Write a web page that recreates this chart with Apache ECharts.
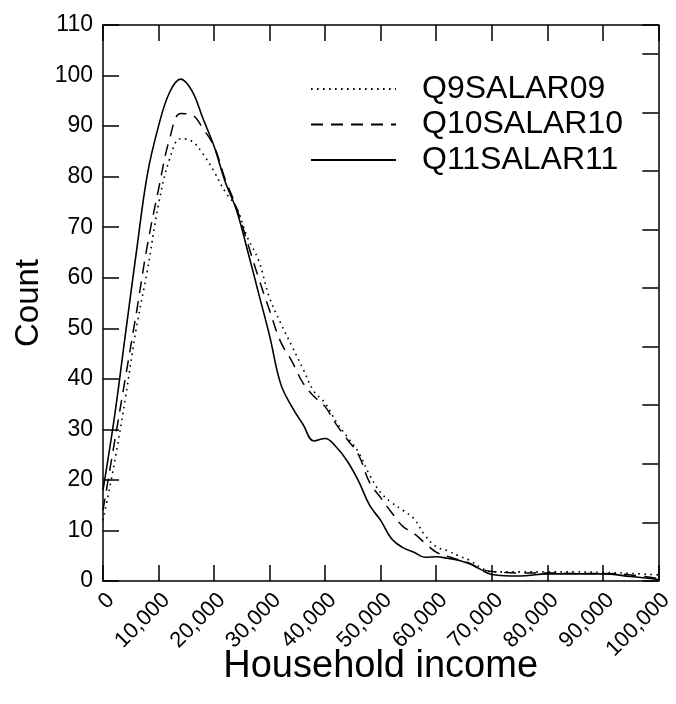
<!DOCTYPE html>
<html>
<head>
<meta charset="utf-8">
<script src="https://cdn.jsdelivr.net/npm/echarts@6/dist/echarts.min.js"></script>
<style>
html,body{margin:0;padding:0;background:#fff;}
#chart{width:676px;height:704px;}
</style>
</head>
<body>
<div id="chart"></div>
<script>
const incomeX = [0, 2000, 4000, 6000, 8000, 10000, 12000, 14000, 16000, 18000, 20000, 22000, 24000, 26000, 28000, 30000, 32000, 34000, 36000, 38000, 40000, 42000, 44000, 46000, 48000, 50000, 52000, 54000, 56000, 58000, 60000, 62000, 64000, 66000, 68000, 70000, 75000, 80000, 85000, 90000, 95000, 100000];
const q9 = [12, 23, 36, 50, 61.5, 74.5, 83.5, 87.5, 87, 84.5, 81, 77, 74, 68, 63.5, 56, 51, 46.5, 42, 37.5, 35.2, 31.5, 28.5, 25.5, 21, 17.5, 15.5, 14, 12.3, 9, 6.8, 6, 5, 4.1, 2.7, 1.8, 1.8, 1.8, 1.8, 1.7, 1.5, 1.2];
const q10 = [14, 27, 40, 53, 66.5, 77.5, 87.5, 92.5, 92.2, 89.5, 86, 79.5, 74, 67, 60, 53.5, 47.3, 43.5, 39.2, 36.5, 34.5, 31, 28, 25, 19.5, 16.5, 13.5, 10.8, 9.4, 7.5, 5.7, 4.9, 4.2, 3.5, 2.4, 1.9, 1.6, 1.6, 1.5, 1.5, 1.2, 0.5];
const q11 = [18, 32, 48.5, 65, 80.5, 90, 96.7, 99.3, 97, 91.5, 86, 79, 73.5, 65.5, 57, 48.5, 39, 34.5, 31, 27.7, 28.2, 26.5, 23.7, 19.8, 15, 12, 8.3, 6.6, 5.7, 4.7, 4.8, 4.5, 4.1, 3.4, 2.3, 1.3, 1.0, 1.4, 1.4, 1.4, 0.9, 0.3];
const seriesNames = ['Q9SALAR09', 'Q10SALAR10', 'Q11SALAR11'];
const xTitle = 'Household income';
const yTitle = 'Count';

const FONT = "'Liberation Sans', Arial, sans-serif";
function pairs(ys){ return incomeX.map((x,i)=>[x, ys[i]]); }
function fmt(v){ return String(v).replace(/\B(?=(\d{3})+(?!\d))/g, ','); }

const chart = echarts.init(document.getElementById('chart'), null, {renderer:'canvas'});
const axisLine = {show:true, onZero:false, lineStyle:{color:'#000', width:1.5}};
const tick = (len)=>({show:true, inside:true, length:len, lineStyle:{color:'#000', width:1.5}});
chart.setOption({
  animation:false,
  backgroundColor:'#fff',
  grid:{left:103, right:17, top:25, bottom:123, containLabel:false},
  legend:{
    left:305, top:68, orient:'vertical',
    itemWidth:85, itemHeight:10, itemGap:3.5,
    itemStyle:{color:'rgba(0,0,0,0)', borderWidth:0, opacity:0},
    textStyle:{fontFamily:FONT, fontSize:32, color:'#000', lineHeight:32, padding:[0,0,0,21]},
    data:seriesNames
  },
  xAxis:[
    {type:'value', position:'bottom', min:0, max:100000, interval:10000,
     axisLine:axisLine, axisTick:tick(16), splitLine:{show:false},
     axisLabel:{rotate:45, margin:8, verticalAlign:'top', fontFamily:FONT, fontSize:22, color:'#000', formatter:fmt},
     name:xTitle, nameLocation:'middle', nameGap:67, nameMoveOverlap:false,
     nameTextStyle:{fontFamily:FONT, fontSize:38, color:'#000'}},
    {type:'value', position:'top', min:0, max:100000, interval:10000,
     axisLine:axisLine, axisTick:tick(16), splitLine:{show:false}, axisLabel:{show:false}}
  ],
  yAxis:[
    {type:'value', position:'left', min:0, max:110, interval:10,
     axisLine:axisLine, axisTick:tick(16), splitLine:{show:false},
     axisLabel:{margin:10, fontFamily:FONT, fontSize:23, color:'#000'},
     name:yTitle, nameLocation:'middle', nameGap:58, nameMoveOverlap:false,
     nameTextStyle:{fontFamily:FONT, fontSize:33, color:'#000'}},
    {type:'value', position:'right', min:0, max:9.49, interval:1,
     axisLine:axisLine, axisTick:tick(16), splitLine:{show:false}, axisLabel:{show:false}}
  ],
  series:[
    {name:seriesNames[0], type:'line', data:pairs(q9), symbol:'none', smooth:0.4,
     lineStyle:{color:'#000', width:1.6, type:[1.6,4.4]}, itemStyle:{color:'#000'}},
    {name:seriesNames[1], type:'line', data:pairs(q10), symbol:'none', smooth:0.4,
     lineStyle:{color:'#000', width:1.5, type:[12,8]}, itemStyle:{color:'#000'}},
    {name:seriesNames[2], type:'line', data:pairs(q11), symbol:'none', smooth:0.4,
     lineStyle:{color:'#000', width:1.6, type:'solid'}, itemStyle:{color:'#000'}}
  ]
});
</script>
</body>
</html>
